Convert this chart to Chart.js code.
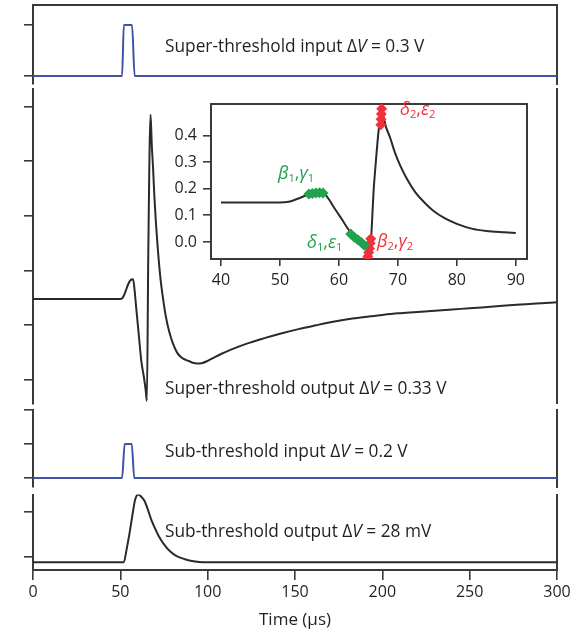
<!DOCTYPE html>
<html><head><meta charset="utf-8">
<script src="https://cdn.jsdelivr.net/npm/chart.js@4.4.0/dist/chart.umd.min.js"></script>
<style>
html,body{margin:0;padding:0;background:#fff;}
#wrap{position:relative;width:575px;height:630px;overflow:hidden;}
canvas{position:absolute;}
</style></head><body>
<div id="wrap">
<canvas id="p1"></canvas>
<canvas id="p2"></canvas>
<canvas id="p3"></canvas>
<canvas id="p4"></canvas>
<canvas id="inset"></canvas>
</div>
<script>
// ---------------- DATA ----------------
const timeTicks = [0, 50, 100, 150, 200, 250, 300];
const superInputTicks = [0, 0.3];
const superOutputTicks = [0, 0.1, 0.2, 0.3, 0.4, 0.5];
const subInputTicks = [0, 0.2, 0.4];
const subOutputTicks = [0, 20];
const insetXTicks = [40, 50, 60, 70, 80, 90];
const insetYTicks = [0, 0.1, 0.2, 0.3, 0.4];

const superInputT = [0, 51, 52, 56.7, 58.2, 300];
const superInputV = [0, 0, 0.3, 0.3, 0, 0];

const superOutputT = [0, 50, 51.5, 53, 54.5, 56, 57.3, 58.2, 59, 60.5, 62, 63.5, 64.5, 65.2, 66, 67.3, 68, 68.7, 69.5, 70.4, 71.5, 73, 74.5, 76, 78, 80, 82.5, 85, 88, 90, 91, 94, 97, 100, 103, 108, 113, 122, 132, 142, 152, 162, 171, 180, 190, 200, 209, 218, 228, 240, 250, 262, 275, 288, 300];
const superOutputV = [0.148, 0.148, 0.151, 0.162, 0.175, 0.183, 0.184, 0.163, 0.135, 0.085, 0.035, 0.005, -0.018, -0.038, 0.23, 0.485, 0.43, 0.39, 0.335, 0.286, 0.238, 0.185, 0.148, 0.117, 0.088, 0.068, 0.05, 0.041, 0.036, 0.0335, 0.032, 0.030, 0.031, 0.035, 0.040, 0.048, 0.055, 0.066, 0.076, 0.085, 0.093, 0.1, 0.106, 0.111, 0.115, 0.119, 0.122, 0.124, 0.126, 0.129, 0.131, 0.134, 0.137, 0.14, 0.142];

const subInputT = [0, 51, 52.5, 56.5, 58, 300];
const subInputV = [0, 0, 0.2, 0.2, 0, 0];

const subOutputT = [0, 52, 53.5, 55.3, 57, 58.4, 59.3, 60, 61, 62, 63.8, 65.8, 67.8, 70, 72.2, 75, 78.6, 82, 87, 91, 95, 100, 300];
const subOutputV = [-2.3, -2.3, 3, 10.7, 19, 25.3, 27.2, 27.8, 27.5, 26.8, 25.0, 21, 16.4, 12.5, 9.0, 5.6, 2.4, 0.5, -1.0, -1.8, -2.2, -2.3, -2.3];

// inset marker clusters
const greenT = [54.9, 55.5, 56.1, 56.7, 57.3, 62.0, 62.6, 63.2, 63.8, 64.3];
const greenV = [0.18, 0.182, 0.184, 0.185, 0.184, 0.03, 0.018, 0.008, -0.002, -0.012];
const redT = [64.9, 65.05, 65.2, 65.3, 65.4, 67.1, 67.15, 67.2, 67.25];
const redV = [-0.055, -0.04, -0.025, -0.005, 0.012, 0.44, 0.46, 0.48, 0.50];

// ---------------- STYLE ----------------
const FAM = "'Open Sans', 'DejaVu Sans', sans-serif";
Chart.defaults.font.family = FAM;
Chart.defaults.color = '#231f20';
const AX = '#3a3a3a';
const BLUE = '#3f52a8';
const BLACK = '#2a2a2a';
const GREEN = '#22a14f';
const RED = '#f0323c';

function pts(T, V) { return T.map((t, i) => ({x: t, y: V[i]})); }
function fixedTicks(vals) { return s => { s.ticks = vals.map(v => ({value: v})); }; }

function drawRich(ctx, x, y, segs, size, color) {
  ctx.save();
  ctx.fillStyle = color; ctx.textBaseline = 'middle'; ctx.textAlign = 'left';
  let cx = x;
  for (const s of segs) {
    const fs = s.sub ? size * 0.62 : size;
    ctx.font = (s.i ? 'italic ' : '') + fs + 'px ' + FAM;
    ctx.fillText(s.t, cx, y + (s.sub ? size * 0.28 : 0));
    cx += ctx.measureText(s.t).width;
  }
  ctx.restore();
}
function textPlugin(items) {
  return {id: 'richText', afterDatasetsDraw(chart) {
    items.forEach(it => drawRich(chart.ctx, it.x, it.y, it.segs, it.size, it.color));
  }};
}

function lineDs(T, V, color) {
  return {data: pts(T, V), borderColor: color, borderWidth: 2, pointRadius: 0,
          cubicInterpolationMode: 'monotone', fill: false};
}

function makePanel(id, top, height, o) {
  const c = document.getElementById(id);
  c.width = 575; c.height = height; c.style.top = top + 'px'; c.style.left = '0px';
  const scales = {
    x: {type: 'linear', min: 0, max: 300, display: !!o.showX,
        afterBuildTicks: fixedTicks(timeTicks),
        grid: {display: true, drawOnChartArea: false, drawTicks: true, tickLength: 10, color: AX, lineWidth: 1.6},
        border: {display: true, color: AX, width: 2},
        ticks: {font: {size: 16}, padding: 3, maxRotation: 0, autoSkip: false, color: '#231f20'},
        title: {display: true, text: 'Time (µs)', font: {size: 17}, color: '#231f20', padding: {top: 0, bottom: 0}},
        afterFit: s => { s.height = o.showX ? 60 : 0; }},
    y: {position: 'left', min: o.min, max: o.max,
        afterBuildTicks: fixedTicks(o.ticks),
        ticks: {display: false},
        grid: {display: true, drawOnChartArea: false, drawTicks: true, tickLength: 9, color: AX, lineWidth: 1.6},
        border: {display: true, color: AX, width: 2},
        afterFit: s => { s.width = 33; }},
    yR: {position: 'right', min: o.min, max: o.max,
        ticks: {display: false}, grid: {display: false, drawTicks: false},
        border: {display: true, color: AX, width: 2},
        afterFit: s => { s.width = 0; }}
  };
  if (o.topBorder) {
    scales.xTop = {type: 'linear', position: 'top', min: 0, max: 300,
      ticks: {display: false}, grid: {display: false, drawTicks: false},
      border: {display: true, color: AX, width: 2},
      afterFit: s => { s.height = 0; }};
  }
  return new Chart(c, {
    type: 'line',
    data: {datasets: o.datasets},
    options: {
      responsive: false, animation: false, devicePixelRatio: 1, events: [],
      layout: {padding: {top: o.padTop, bottom: o.padBottom, left: 0, right: 18}},
      plugins: {legend: {display: false}, tooltip: {enabled: false}},
      scales
    },
    plugins: [textPlugin(o.texts || [])]
  });
}

const ANN = 17.3;
makePanel('p1', 0, 88, {
  min: -0.047, max: 0.4176, ticks: superInputTicks, padTop: 5, padBottom: 4, topBorder: true,
  datasets: [lineDs(superInputT, superInputV, BLUE)],
  texts: [{x: 165, y: 47, size: ANN, color: '#231f20',
    segs: [{t: 'Super-threshold input Δ'}, {t: 'V', i: true}, {t: ' = 0.3 V'}]}]
});
makePanel('p2', 88, 318, {
  min: -0.043, max: 0.532, ticks: superOutputTicks, padTop: 1, padBottom: 2.5,
  datasets: [lineDs(superOutputT, superOutputV, BLACK)],
  texts: [{x: 165, y: 301, size: ANN, color: '#231f20',
    segs: [{t: 'Super-threshold output Δ'}, {t: 'V', i: true}, {t: ' = 0.33 V'}]}]
});
makePanel('p3', 406, 86, {
  min: -0.053, max: 0.403, ticks: subInputTicks, padTop: 3.5, padBottom: 5,
  datasets: [lineDs(subInputT, subInputV, BLUE)],
  texts: [{x: 165, y: 46, size: ANN, color: '#231f20',
    segs: [{t: 'Sub-threshold input Δ'}, {t: 'V', i: true}, {t: ' = 0.2 V'}]}]
});
makePanel('p4', 492, 138, {
  min: -5.8, max: 27.8, ticks: subOutputTicks, padTop: 2.5, padBottom: 0, showX: true,
  datasets: [lineDs(subOutputT, subOutputV, BLACK)],
  texts: [{x: 165, y: 40, size: ANN, color: '#231f20',
    segs: [{t: 'Sub-threshold output Δ'}, {t: 'V', i: true}, {t: ' = 28 mV'}]}]
});

// ---------------- INSET ----------------
(function () {
  const c = document.getElementById('inset');
  c.width = 380; c.height = 207; c.style.left = '160px'; c.style.top = '88px';
  const iT = [], iV = [];
  superOutputT.forEach((t, i) => { if (t >= 40 && t <= 90) { iT.push(t); iV.push(superOutputV[i]); } });
  iT.unshift(40); iV.unshift(superOutputV[1]);
  const mk = (T, V, col) => ({data: pts(T, V), showLine: false, pointStyle: 'rectRot',
    pointRadius: 5.5, pointBackgroundColor: col, pointBorderColor: col, pointBorderWidth: 0});
  const G = 18;
  new Chart(c, {
    type: 'line',
    data: {datasets: [mk(greenT, greenV, GREEN), mk(redT, redV, RED), lineDs(iT, iV, BLACK)]},
    options: {
      responsive: false, animation: false, devicePixelRatio: 1, events: [],
      layout: {padding: {top: 5, bottom: 0, left: 0, right: 13}},
      plugins: {legend: {display: false}, tooltip: {enabled: false}},
      scales: {
        x: {type: 'linear', min: 38.3, max: 91.9, afterBuildTicks: fixedTicks(insetXTicks),
          grid: {display: true, drawOnChartArea: false, drawTicks: true, tickLength: 7, color: AX, lineWidth: 1.6},
          border: {display: true, color: AX, width: 2},
          ticks: {font: {size: 16}, padding: 5, maxRotation: 0, autoSkip: false, color: '#231f20'},
          afterFit: s => { s.height = 36; }},
        xTop: {type: 'linear', position: 'top', min: 38.3, max: 91.9,
          ticks: {display: false}, grid: {display: false, drawTicks: false},
          border: {display: true, color: AX, width: 2}, afterFit: s => { s.height = 0; }},
        y: {position: 'left', min: -0.064, max: 0.519, afterBuildTicks: fixedTicks(insetYTicks),
          grid: {display: true, drawOnChartArea: false, drawTicks: true, tickLength: 8, color: AX, lineWidth: 1.6},
          border: {display: true, color: AX, width: 2},
          ticks: {font: {size: 16}, padding: 6, color: '#231f20', callback: v => v.toFixed(1)},
          afterFit: s => { s.width = 51; }},
        yR: {position: 'right', min: -0.064, max: 0.519,
          ticks: {display: false}, grid: {display: false, drawTicks: false},
          border: {display: true, color: AX, width: 2}, afterFit: s => { s.width = 0; }}
      }
    },
    plugins: [textPlugin([
      {x: 118, y: 86, size: G, color: GREEN, segs: [{t: 'β', i: true}, {t: '1', sub: true}, {t: ','}, {t: 'γ', i: true}, {t: '1', sub: true}]},
      {x: 147, y: 155, size: G, color: GREEN, segs: [{t: 'δ', i: true}, {t: '1', sub: true}, {t: ','}, {t: 'ε', i: true}, {t: '1', sub: true}]},
      {x: 217, y: 154, size: G, color: RED, segs: [{t: 'β', i: true}, {t: '2', sub: true}, {t: ','}, {t: 'γ', i: true}, {t: '2', sub: true}]},
      {x: 240, y: 22, size: G, color: RED, segs: [{t: 'δ', i: true}, {t: '2', sub: true}, {t: ','}, {t: 'ε', i: true}, {t: '2', sub: true}]}
    ])]
  });
})();
</script>
</body></html>
